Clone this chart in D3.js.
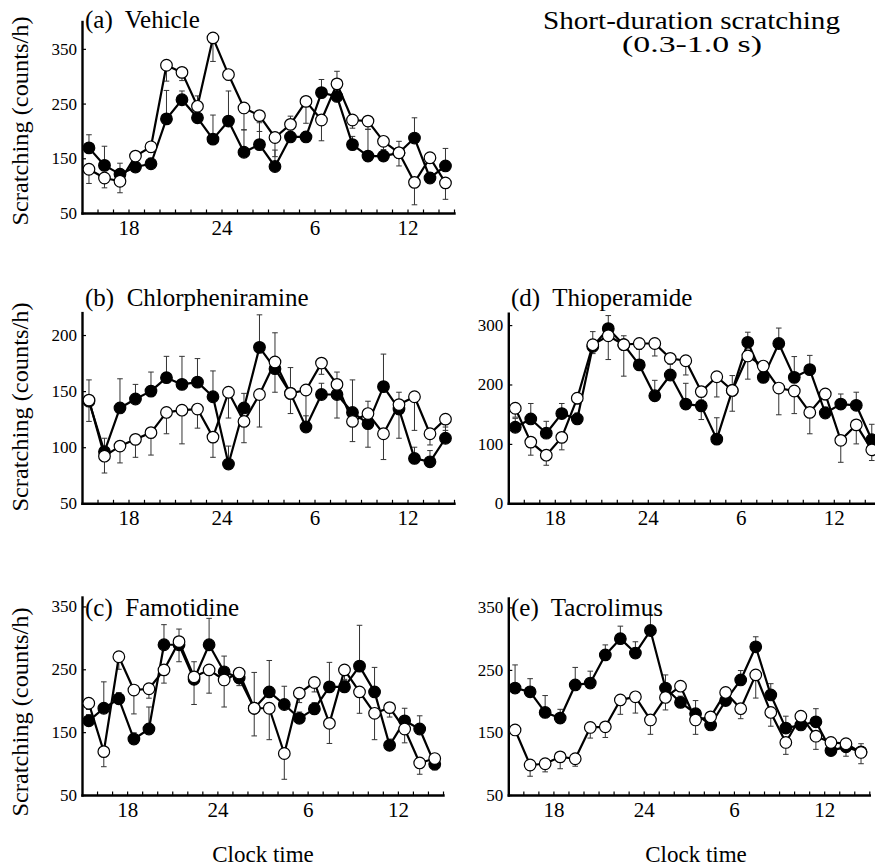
<!DOCTYPE html>
<html>
<head>
<meta charset="utf-8">
<script src="https://cdn.jsdelivr.net/npm/d3@7"></script>
<style>
  body { margin: 0; background: #fff; }
  svg text { font-family: "Liberation Serif", "Times New Roman", serif; fill: #000; }
</style>
</head>
<body>
<div id="chart"></div>
<script>
const WIDTH = 875;
const HEIGHT = 867;

// clock hour of each hourly bin (15:00 .. 14:00 next day)
const hours = [15, 16, 17, 18, 19, 20, 21, 22, 23, 24, 25, 26, 27, 28, 29, 30, 31, 32, 33, 34, 35, 36, 37, 38];
const tickHours = [18, 24, 30, 36];
const tickLabels = ['18', '24', '6', '12'];

// (a) Vehicle
const vehicleFilled = [169, 137, 121, 134, 140, 222, 257, 224, 185, 218, 161, 175, 135, 189, 189, 270, 263, 175, 154, 154, 160, 187, 114, 136];
const vehicleFilledErr = [24, 35, 20, 10, 10, 52, 16, 40, 44, 55, 41, 40, 30, 38, 10, 24, 46, 15, 49, 10, 21, 37, 10, 32];
const vehicleOpen = [130, 114, 108, 154, 171, 320, 307, 245, 370, 303, 242, 228, 188, 212, 254, 220, 286, 220, 218, 181, 160, 106, 151, 105];
const vehicleOpenErr = [26, 18, 21, 10, 10, 29, 15, 15, 43, 10, 40, 29, 35, 15, 40, 38, 15, 15, 15, 15, 24, 41, 10, 30];

// (b) Chlorpheniramine
const chlorFilled = [141, 96, 135, 143, 150, 162, 156, 158, 145, 85, 135, 189, 170, 148, 118, 147, 147, 131, 121, 154, 134, 90, 87, 108];
const chlorFilledErr = [19, 12, 26, 13, 17, 19, 25, 21, 23, 16, 13, 29, 32, 23, 10, 10, 20, 29, 20, 29, 15, 10, 10, 10];
const chlorOpen = [142, 92, 101, 107, 113, 131, 133, 134, 109, 149, 123, 147, 176, 148, 151, 175, 156, 123, 130, 112, 138, 145, 112, 125];
const chlorOpenErr = [19, 15, 15, 16, 20, 19, 30, 17, 18, 23, 19, 29, 27, 18, 30, 10, 30, 18, 30, 23, 30, 30, 10, 10];

// (c) Famotidine
const famoFilled = [168, 188, 203, 139, 155, 289, 289, 234, 289, 246, 236, 188, 214, 194, 172, 187, 222, 222, 255, 214, 129, 168, 155, 99];
const famoFilledErr = [10, 42, 10, 10, 35, 32, 25, 28, 42, 25, 10, 57, 50, 29, 10, 10, 39, 10, 65, 39, 10, 20, 21, 10];
const famoOpen = [196, 119, 270, 217, 219, 249, 294, 238, 249, 233, 244, 188, 188, 116, 212, 229, 164, 249, 214, 180, 189, 155, 101, 108];
const famoOpenErr = [10, 24, 20, 38, 15, 21, 32, 44, 37, 43, 20, 44, 50, 41, 15, 15, 32, 15, 34, 42, 15, 22, 18, 18];

// (d) Thioperamide
const thioFilled = [128, 142, 118, 151, 142, 264, 294, 267, 233, 181, 216, 167, 164, 108, 190, 271, 212, 269, 212, 225, 152, 167, 165, 107];
const thioFilledErr = [15, 26, 20, 17, 10, 25, 22, 15, 26, 26, 20, 35, 10, 36, 25, 17, 25, 26, 35, 24, 10, 17, 22, 26];
const thioOpen = [160, 103, 81, 111, 177, 267, 282, 267, 269, 269, 244, 240, 188, 213, 190, 248, 231, 194, 189, 153, 184, 106, 132, 90];
const thioOpenErr = [15, 22, 17, 21, 10, 15, 40, 53, 10, 21, 10, 24, 47, 34, 35, 39, 15, 45, 38, 36, 10, 37, 32, 18];

// (e) Tacrolimus
const tacroFilled = [221, 215, 182, 173, 226, 229, 274, 300, 277, 313, 221, 198, 180, 162, 201, 234, 287, 210, 157, 162, 167, 121, 127, 119];
const tacroFilledErr = [37, 21, 27, 14, 28, 19, 16, 20, 18, 25, 21, 10, 21, 10, 10, 15, 16, 18, 19, 10, 21, 8, 8, 13];
const tacroOpen = [154, 98, 100, 111, 108, 158, 159, 202, 207, 170, 206, 224, 170, 175, 214, 188, 242, 182, 134, 176, 144, 134, 132, 118];
const tacroOpenErr = [8, 18, 13, 19, 12, 17, 17, 23, 26, 23, 20, 8, 23, 8, 8, 16, 37, 22, 19, 8, 21, 8, 20, 18];

const panels = [
    {title: '(a)  Vehicle', filled: vehicleFilled, filledErr: vehicleFilledErr, open: vehicleOpen, openErr: vehicleOpenErr,
     yDomain: [50, 400], yTicks: [50, 150, 250, 350], x0: 82, w: 372, yB: 213, yT: 21.5, tx: 85, ty: 28, yLabel: 121},
    {title: '(b)  Chlorpheniramine', filled: chlorFilled, filledErr: chlorFilledErr, open: chlorOpen, openErr: chlorOpenErr,
     yDomain: [50, 220], yTicks: [50, 100, 150, 200], x0: 82, w: 372, yB: 503.3, yT: 312.6, tx: 85, ty: 306, yLabel: 407},
    {title: '(c)  Famotidine', filled: famoFilled, filledErr: famoFilledErr, open: famoOpen, openErr: famoOpenErr,
     yDomain: [50, 365], yTicks: [50, 150, 250, 350], x0: 82, w: 361, yB: 795, yT: 597, tx: 85, ty: 616, yLabel: 712, xLabel: 263},
    {title: '(d)  Thioperamide', filled: thioFilled, filledErr: thioFilledErr, open: thioOpen, openErr: thioOpenErr,
     yDomain: [0, 320], yTicks: [0, 100, 200, 300], x0: 508.3, w: 372, yB: 503.3, yT: 313.2, tx: 511, ty: 306},
    {title: '(e)  Tacrolimus', filled: tacroFilled, filledErr: tacroFilledErr, open: tacroOpen, openErr: tacroOpenErr,
     yDomain: [50, 365], yTicks: [50, 150, 250, 350], x0: 508.3, w: 361, yB: 795, yT: 598, tx: 511, ty: 616, xLabel: 696}
];

const svg = d3.select('#chart').append('svg')
    .attr('width', WIDTH)
    .attr('height', HEIGHT);

svg.append('rect').attr('width', WIDTH).attr('height', HEIGHT).attr('fill', '#fff');

function drawErrors(g, x, y, values, errs, dir) {
    values.forEach(function (v, i) {
        var cx = x(hours[i] + 0.45);
        var y1 = y(v), y2 = y(v + dir * errs[i]);
        g.append('line').attr('x1', cx).attr('x2', cx).attr('y1', y1).attr('y2', y2)
            .attr('stroke', '#333').attr('stroke-width', 1);
        g.append('line').attr('x1', cx - 2.8).attr('x2', cx + 2.8).attr('y1', y2).attr('y2', y2)
            .attr('stroke', '#333').attr('stroke-width', 1);
    });
}

function drawSeries(g, x, y, values, fill) {
    var line = d3.line()
        .x(function (d, i) { return x(hours[i] + 0.45); })
        .y(function (d) { return y(d); });
    g.append('path').attr('d', line(values))
        .attr('fill', 'none').attr('stroke', '#000').attr('stroke-width', 2.2)
        .attr('stroke-linejoin', 'round');
    g.selectAll(null).data(values).enter().append('circle')
        .attr('cx', function (d, i) { return x(hours[i] + 0.45); })
        .attr('cy', function (d) { return y(d); })
        .attr('r', 5.8)
        .attr('fill', fill)
        .attr('stroke', '#000')
        .attr('stroke-width', 1.2);
}

function drawPanel(p) {
    var x = d3.scaleLinear().domain([15, 39]).range([p.x0, p.x0 + p.w]);
    var y = d3.scaleLinear().domain(p.yDomain).range([p.yB, p.yT]);
    var g = svg.append('g');

    var xAxis = d3.axisBottom(x)
        .tickValues(d3.range(16, 40))
        .tickSize(-3.5).tickSizeOuter(0).tickPadding(7)
        .tickFormat(function (h) {
            var k = tickHours.indexOf(h);
            return k < 0 ? '' : tickLabels[k];
        });
    var xg = g.append('g').attr('transform', 'translate(0,' + p.yB + ')').call(xAxis);
    xg.select('.domain').attr('stroke-width', 2.4).attr('stroke-linecap', 'square');
    xg.selectAll('.tick line').attr('stroke-width', 1.2);
    xg.selectAll('.tick text').attr('font-size', 21);

    var yAxis = d3.axisLeft(y)
        .tickValues(p.yTicks)
        .tickSize(-4).tickSizeOuter(0).tickPadding(5);
    var yg = g.append('g').attr('transform', 'translate(' + p.x0 + ',0)').call(yAxis);
    yg.select('.domain').attr('stroke-width', 2.4).attr('stroke-linecap', 'square');
    yg.selectAll('.tick line').attr('stroke-width', 1.2);
    yg.selectAll('.tick text').attr('font-size', 17);
    g.selectAll('.domain, .tick line').attr('stroke', '#000');

    var eg = g.append('g');
    drawErrors(eg, x, y, p.filled, p.filledErr, 1);
    drawErrors(eg, x, y, p.open, p.openErr, -1);
    drawSeries(g.append('g'), x, y, p.filled, '#000');
    drawSeries(g.append('g'), x, y, p.open, '#fff');

    g.append('text').attr('x', p.tx).attr('y', p.ty)
        .attr('font-size', 25).style('white-space', 'pre').text(p.title);

    if (p.yLabel) {
        g.append('text')
            .attr('transform', 'translate(28,' + p.yLabel + ') rotate(-90)')
            .attr('text-anchor', 'middle')
            .attr('font-size', 23)
            .attr('textLength', 209)
            .attr('lengthAdjust', 'spacingAndGlyphs')
            .text('Scratching (counts/h)');
    }
    if (p.xLabel) {
        g.append('text')
            .attr('x', p.xLabel)
            .attr('y', 862)
            .attr('text-anchor', 'middle')
            .attr('font-size', 23)
            .text('Clock time');
    }
}

panels.forEach(drawPanel);

svg.append('text')
    .attr('x', 691.5).attr('y', 29)
    .attr('text-anchor', 'middle')
    .attr('font-size', 25)
    .attr('textLength', 297)
    .attr('lengthAdjust', 'spacingAndGlyphs')
    .text('Short-duration scratching');
svg.append('text')
    .attr('x', 692).attr('y', 52)
    .attr('text-anchor', 'middle')
    .attr('font-size', 23)
    .attr('textLength', 140)
    .attr('lengthAdjust', 'spacingAndGlyphs')
    .text('(0.3-1.0 s)');
</script>
</body>
</html>
